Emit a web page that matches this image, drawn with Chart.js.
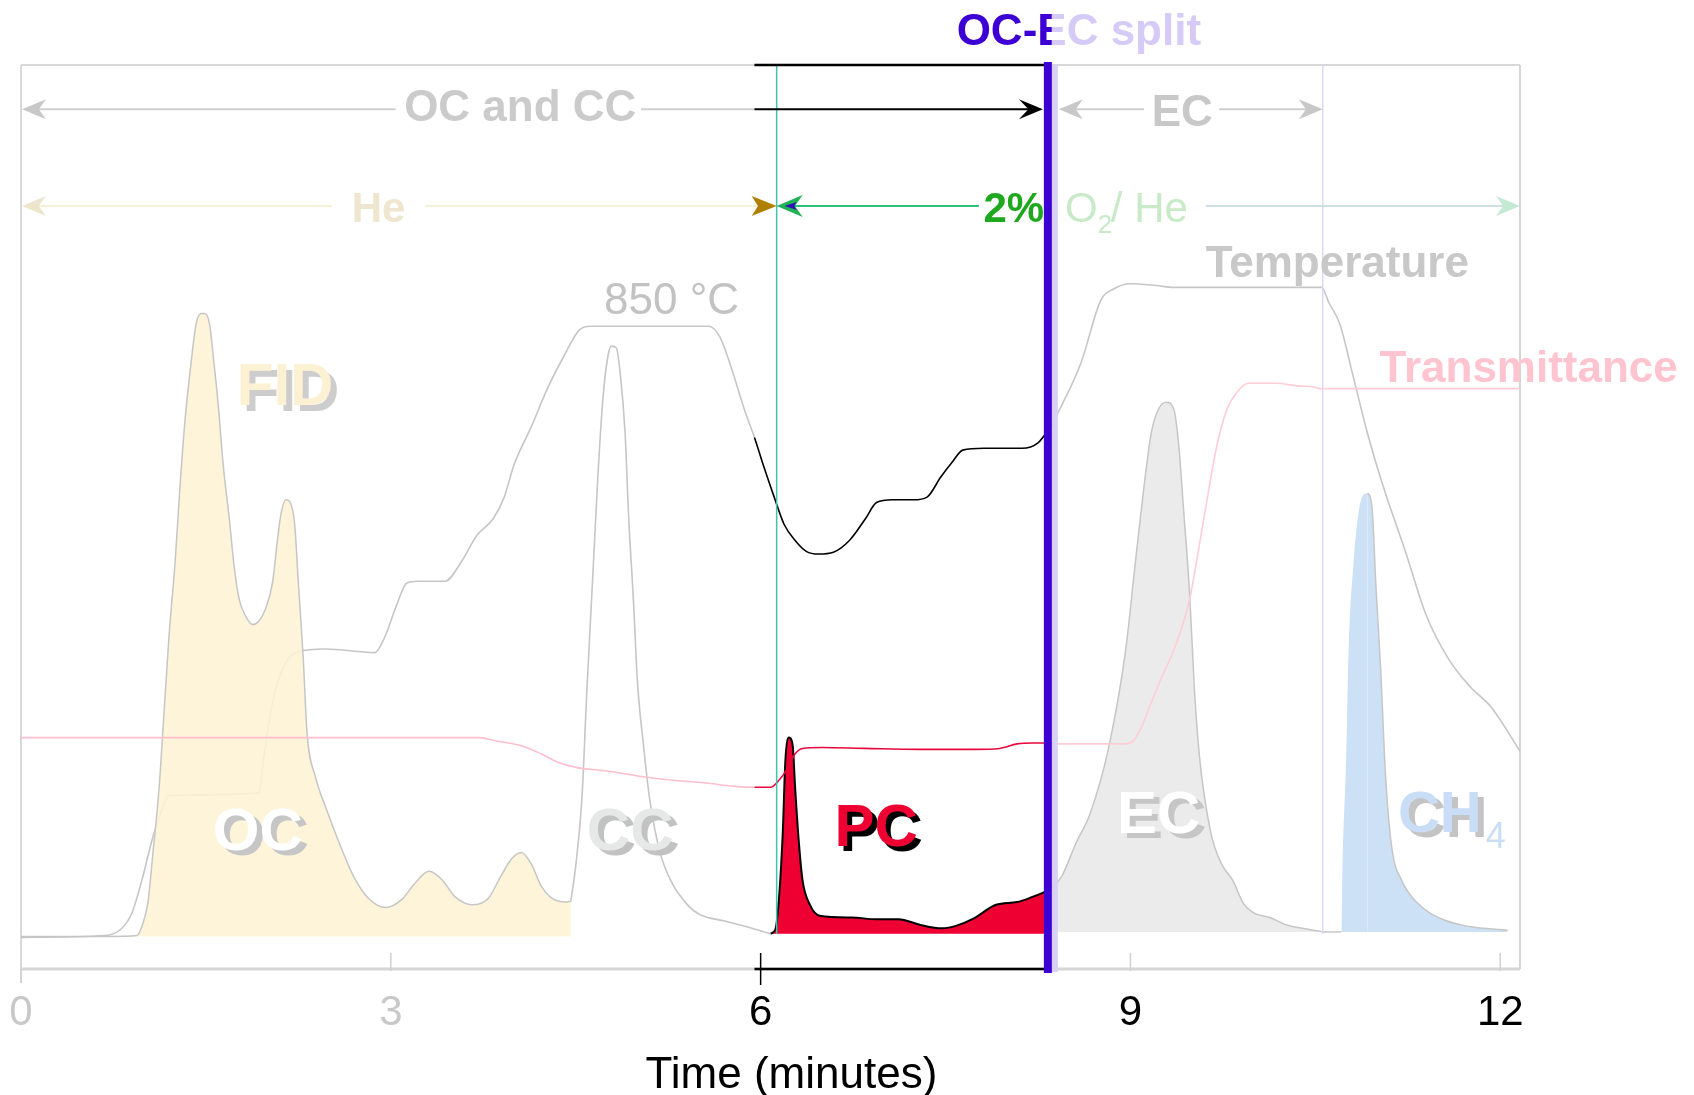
<!DOCTYPE html>
<html>
<head>
<meta charset="utf-8">
<title>OC-EC thermogram</title>
<script src="https://cdn.jsdelivr.net/npm/chart.js@4"></script>
<style>
  html, body { margin: 0; padding: 0; background: #fff; }
  canvas { display: block; }
</style>
</head>
<body>
<canvas id="thermo" width="1694" height="1095"></canvas>
<script>
// x in minutes, y in arbitrary signal units (0 = time axis, 100 = top of frame)
const tickValues = [0, 3, 6, 9, 12];

// FID signal, one array per carbon fraction
const fidOC = [[0,3.6],[0.72,3.6],[0.94,3.7],[0.98,4.7],[1.03,7.4],[1.07,12.8],[1.12,20.0],[1.16,28.3],[1.20,36.7],[1.25,45.0],[1.29,53.4],[1.33,60.6],[1.38,67.1],[1.42,71.3],[1.46,72.5],[1.49,72.5],[1.53,71.3],[1.56,67.7],[1.60,62.4],[1.64,55.8],[1.69,49.8],[1.73,44.4],[1.77,40.9],[1.82,39.1],[1.88,38.1],[1.93,38.5],[1.98,39.7],[2.04,42.7],[2.08,47.4],[2.11,50.4],[2.15,51.9],[2.18,51.7],[2.22,49.2],[2.25,42.7],[2.29,34.3],[2.32,26.2],[2.39,21.2],[2.48,17.6],[2.58,14.0],[2.70,10.2],[2.82,7.8],[2.96,6.8],[3.09,7.7],[3.19,9.4],[3.31,10.8],[3.42,9.8],[3.52,8.0],[3.66,7.1],[3.79,7.8],[3.89,10.2],[3.98,12.2],[4.06,12.9],[4.14,11.6],[4.22,9.2],[4.31,7.8],[4.42,7.4],[4.46,7.5]];
const fidCC = [[4.46,7.5],[4.50,11.4],[4.55,18.8],[4.59,30.7],[4.64,43.9],[4.68,54.6],[4.72,63.0],[4.76,67.7],[4.79,68.9],[4.83,68.7],[4.86,66.0],[4.90,59.4],[4.93,49.8],[4.97,40.3],[5.00,31.9],[5.05,24.7],[5.10,18.8],[5.18,13.1],[5.27,9.8],[5.42,6.9],[5.51,6.0],[5.71,5.3],[5.93,4.5],[6.08,3.9]];
const fidPC = [[6.08,3.9],[6.12,4.4],[6.15,8.0],[6.18,15.2],[6.20,22.9],[6.23,25.6],[6.26,24.7],[6.28,20.0],[6.31,14.0],[6.34,9.8],[6.40,7.1],[6.48,5.9],[6.74,5.7],[6.94,5.5],[7.12,5.5],[7.29,4.9],[7.47,4.5],[7.59,4.8],[7.73,5.6],[7.91,7.1],[8.08,7.4],[8.21,8.0],[8.32,8.6]];
const fidEC = [[8.32,8.6],[8.44,10.2],[8.56,14.0],[8.67,17.1],[8.82,24.3],[8.96,35.2],[9.04,45.0],[9.11,53.4],[9.17,59.4],[9.23,62.0],[9.29,62.7],[9.35,62.0],[9.39,58.2],[9.43,51.0],[9.48,41.5],[9.52,30.7],[9.56,23.5],[9.65,15.2],[9.74,11.6],[9.83,9.8],[9.91,7.4],[10.00,6.2],[10.13,5.7],[10.26,4.9],[10.44,4.4],[10.56,4.1]];
const fidCH4 = [[10.56,4.1],[10.71,4.1],[10.72,11.6],[10.75,23.5],[10.77,35.5],[10.81,45.0],[10.85,50.4],[10.89,52.5],[10.92,52.6],[10.96,51.0],[10.99,42.7],[11.03,33.1],[11.07,21.2],[11.12,13.4],[11.20,9.8],[11.32,7.4],[11.53,5.5],[11.75,4.7],[12.06,4.3]];

// oven temperature profile
const temperature = [[0,3.5],[0.68,3.7],[0.81,4.4],[0.90,6.2],[0.98,9.8],[1.07,14.6],[1.16,18.2],[1.20,19.2],[1.93,19.5],[1.97,23.5],[2.04,29.5],[2.14,33.7],[2.25,35.1],[2.47,35.4],[2.87,35.0],[2.95,36.7],[3.04,40.0],[3.13,42.7],[3.22,42.9],[3.44,42.9],[3.57,45.0],[3.70,48.0],[3.83,49.8],[3.92,52.2],[4.00,55.8],[4.14,60.0],[4.27,64.2],[4.40,67.7],[4.53,70.7],[4.62,71.1],[5.58,71.1],[5.67,69.9],[5.76,66.6],[5.87,61.8],[5.95,58.8],[6.02,55.8],[6.11,52.2],[6.19,49.2],[6.28,47.4],[6.37,46.2],[6.47,45.9],[6.59,46.1],[6.72,47.4],[6.85,49.8],[6.94,51.6],[7.07,51.9],[7.24,51.9],[7.35,52.2],[7.46,54.4],[7.55,56.0],[7.64,57.4],[7.81,57.6],[8.12,57.6],[8.25,58.2],[8.32,59.4],[8.44,62.3],[8.60,67.1],[8.76,74.0],[8.86,75.2],[9.00,75.8],[9.21,75.6],[9.35,75.4],[10.55,75.4],[10.61,73.7],[10.70,71.3],[10.79,66.5],[10.92,59.4],[11.05,53.4],[11.23,46.2],[11.40,39.1],[11.58,34.3],[11.75,31.3],[11.93,28.9],[12.16,24.1]];

// laser transmittance
const transmittance = [[0,25.6],[3.71,25.6],[3.87,25.2],[4.06,24.7],[4.22,23.8],[4.35,22.9],[4.50,22.3],[4.75,21.9],[5.03,21.3],[5.27,20.9],[5.54,20.6],[5.80,20.2],[5.95,20.1],[6.08,20.1],[6.15,20.9],[6.21,22.0],[6.28,23.8],[6.34,24.4],[6.50,24.5],[6.85,24.4],[7.29,24.3],[7.73,24.3],[7.94,24.4],[8.08,24.9],[8.21,25.0],[8.32,25.0],[8.38,24.9],[8.95,24.9],[9.02,25.2],[9.08,26.5],[9.17,29.5],[9.26,32.5],[9.35,35.2],[9.48,40.9],[9.58,48.6],[9.70,57.8],[9.78,61.8],[9.87,63.9],[9.96,64.8],[10.18,64.8],[10.35,64.5],[10.48,64.4],[10.54,64.2],[12.16,64.2]];

// event times (minutes)
const PC_START = 5.95;
const O2_START = 6.13;
const SPLIT = 8.33;
const EC_END = 10.56;
const X_MAX = 12.16;

const FONT = '"Liberation Sans", Arial, sans-serif';
const GREY = '#c6c6c6';

const pts = arr => arr.map(([x, y]) => ({ x, y }));

function stroke(ctx, color, w, x1, y1, x2, y2) {
    ctx.strokeStyle = color;
    ctx.lineWidth = w;
    ctx.beginPath();
    ctx.moveTo(x1, y1);
    ctx.lineTo(x2, y2);
    ctx.stroke();
}

// barbed arrow head, dir 1 = points right, -1 = points left
function head(ctx, x, y, dir, color, len, w, notch) {
    ctx.fillStyle = color;
    ctx.beginPath();
    ctx.moveTo(x, y);
    ctx.lineTo(x - dir * len, y - w);
    ctx.lineTo(x - dir * len * notch, y);
    ctx.lineTo(x - dir * len, y + w);
    ctx.closePath();
    ctx.fill();
}

function text(ctx, s, x, y, font, color, align) {
    ctx.font = font;
    ctx.fillStyle = color;
    ctx.textAlign = align || 'left';
    ctx.textBaseline = 'alphabetic';
    ctx.fillText(s, x, y);
}

function shadowText(ctx, s, x, y, font, color, shade, dx, dy) {
    text(ctx, s, x + dx, y + dy, font, shade);
    text(ctx, s, x, y, font, color);
}

const decorations = {
    id: 'decorations',
    beforeDatasetsDraw(chart) {
        const { ctx, chartArea: a } = chart;
        const X = v => chart.scales.x.getPixelForValue(v);
        ctx.save();
        stroke(ctx, '#d8d8d8', 2, X(0), a.top, X(X_MAX), a.top);
        stroke(ctx, '#d8d8d8', 2, X(0), a.top, X(0), a.bottom);
        stroke(ctx, '#d4d4d4', 2, X(X_MAX), a.top, X(X_MAX), a.bottom);
        stroke(ctx, '#d6d6d6', 3, X(0), a.bottom, X(X_MAX), a.bottom);
        ctx.restore();
    },
    afterDatasetsDraw(chart) {
        const { ctx, chartArea: a } = chart;
        const X = v => chart.scales.x.getPixelForValue(v);
        const Y = v => chart.scales.y.getPixelForValue(v);
        ctx.save();

        // guides
        stroke(ctx, '#3cc6b2', 1.5, X(O2_START), a.top, X(O2_START), Y(3.9));
        stroke(ctx, '#ddd8f6', 1.5, X(EC_END), a.top, X(EC_END), Y(3.9));

        // black window for the pyrolysed carbon period
        stroke(ctx, '#000', 2.5, X(PC_START), a.top, X(SPLIT), a.top);
        stroke(ctx, '#000', 2.5, X(PC_START), a.bottom, X(SPLIT), a.bottom);

        // tick marks
        chart.scales.x.ticks.forEach(t => {
            const x = X(t.value);
            if (t.value === 6) stroke(ctx, '#000', 1.5, x, a.bottom - 16, x, a.bottom + 16);
            else if (t.value === 0) stroke(ctx, GREY, 1.5, x, a.bottom, x, a.bottom + 14);
            else stroke(ctx, '#d0d0d0', 1.5, x, a.bottom - 16, x, a.bottom + 2);
        });

        // OC and CC / EC arrows
        const r1 = Y(95.1);
        stroke(ctx, '#cfcfcf', 2, X(0) + 6, r1, X(3.04), r1);
        stroke(ctx, '#cfcfcf', 2, X(5.03), r1, X(PC_START), r1);
        stroke(ctx, '#000', 2, X(PC_START), r1, X(SPLIT) - 10, r1);
        head(ctx, X(0) + 1, r1, -1, '#c8c8c8', 24, 10, 0.7);
        head(ctx, X(SPLIT) - 5, r1, 1, '#000', 24, 10, 0.6);
        text(ctx, 'OC and CC', X(4.05), Y(93.8), 'bold 44px ' + FONT, '#cbcbcb', 'center');

        stroke(ctx, '#cfcfcf', 2, X(SPLIT) + 16, r1, X(9.11), r1);
        stroke(ctx, '#cfcfcf', 2, X(9.72), r1, X(EC_END) - 8, r1);
        head(ctx, X(SPLIT) + 11, r1, -1, '#c8c8c8', 24, 10, 0.7);
        head(ctx, X(EC_END), r1, 1, '#c8c8c8', 24, 10, 0.7);
        text(ctx, 'EC', X(9.42), Y(93.2), 'bold 44px ' + FONT, '#c8c8c8', 'center');

        // carrier gas arrows
        const r2 = Y(84.4);
        stroke(ctx, '#f6f0d4', 2, X(0) + 6, r2, X(2.52), r2);
        stroke(ctx, '#f6f0d4', 2, X(3.28), r2, X(O2_START) - 20, r2);
        head(ctx, X(0) + 1, r2, -1, '#eee5cd', 24, 10, 0.7);
        text(ctx, 'He', X(2.90), Y(82.6), 'bold 42px ' + FONT, '#efe6d0', 'center');
        head(ctx, X(O2_START), r2, 1, '#b07f00', 25, 10, 0.75);

        stroke(ctx, '#2cc07a', 2, X(O2_START) + 10, r2, X(7.77), r2);
        head(ctx, X(O2_START), r2, -1, '#1fb255', 26, 11, 0.7);
        head(ctx, X(O2_START) + 8, r2, -1, '#3010b8', 12, 4, 0.8);
        text(ctx, '2%', X(8.30), Y(82.6), 'bold 42px ' + FONT, '#1ea81e', 'right');

        const o2x = X(8.47), o2y = Y(82.6);
        ctx.font = '42px ' + FONT;
        const wO = ctx.measureText('O').width;
        text(ctx, 'O', o2x, o2y, '42px ' + FONT, '#c8eac8');
        text(ctx, '2', o2x + wO, o2y + 11, '26px ' + FONT, '#c8eac8');
        text(ctx, '/ He', o2x + wO + 13, o2y, '42px ' + FONT, '#c8eac8');
        stroke(ctx, '#cfe0e4', 2, X(9.61), r2, X(X_MAX) - 8, r2);
        head(ctx, X(X_MAX), r2, 1, '#c4ead4', 24, 10, 0.7);

        // curve names
        text(ctx, 'Temperature', X(9.61), Y(76.6), 'bold 44px ' + FONT, '#c8c8c8');
        text(ctx, '850 \u00B0C', X(4.73), Y(72.5), '44px ' + FONT, '#c2c2c2');
        text(ctx, 'Transmittance', X(11.02), Y(64.9), 'bold 44px ' + FONT, '#ffc4cf');

        // peak labels
        shadowText(ctx, 'FID', X(1.75), Y(62.4), 'bold 60px ' + FONT, '#fdf1d4', '#cdcdcd', 6, 6);
        shadowText(ctx, 'OC', X(1.556), Y(13.2), 'bold 60px ' + FONT, '#ffffff', '#c6c6c6', 6, 5);
        shadowText(ctx, 'CC', X(4.59), Y(13.2), 'bold 60px ' + FONT, '#e6e8e8', '#c2c2c2', 6, 5);
        shadowText(ctx, 'PC', X(6.60), Y(13.6), 'bold 60px ' + FONT, '#ee0033', '#000000', 5, 5);
        shadowText(ctx, 'EC', X(8.89), Y(15.0), 'bold 60px ' + FONT, '#ffffff', '#c6c6c6', 6, 5);
        shadowText(ctx, 'CH', X(11.17), Y(15.2), 'bold 58px ' + FONT, '#c9def6', '#c4c4c4', 6, 5);
        ctx.font = 'bold 58px ' + FONT;
        const wCH = ctx.measureText('CH').width;
        text(ctx, '4', X(11.17) + wCH + 4, Y(13.4), '36px ' + FONT, '#c9def6');

        // OC-EC split line
        stroke(ctx, '#d9d0f6', 6, X(SPLIT) + 7, a.top, X(SPLIT) + 7, a.bottom + 3);
        stroke(ctx, '#3d00d4', 8, X(SPLIT), a.top - 3, X(SPLIT), a.bottom + 4);

        ctx.restore();
    },
    afterDraw(chart) {
        const { ctx, chartArea: a } = chart;
        const X = v => chart.scales.x.getPixelForValue(v);
        const Y = v => chart.scales.y.getPixelForValue(v);
        ctx.save();
        // split title: purple left of the line, lavender right of it
        const cut = X(SPLIT) + 4;
        ctx.save();
        ctx.beginPath(); ctx.rect(0, 0, cut, a.top - 4); ctx.clip();
        text(ctx, 'OC-EC split', X(7.59), Y(102.2), 'bold 44px ' + FONT, '#3d00d4');
        ctx.restore();
        ctx.save();
        ctx.beginPath(); ctx.rect(cut, 0, chart.width - cut, a.top - 4); ctx.clip();
        text(ctx, 'OC-EC split', X(7.59), Y(102.2), 'bold 44px ' + FONT, '#d6cbf6');
        ctx.restore();

        text(ctx, 'Time (minutes)', X(6.25), a.bottom + 119, '44px ' + FONT, '#000', 'center');
        ctx.restore();
    }
};

const greyOrBlack = c => (c.p0.parsed.x >= PC_START && c.p0.parsed.x < 8.3) ? '#000' : GREY;

new Chart(document.getElementById('thermo'), {
    type: 'line',
    data: {
        datasets: [
            {
                label: 'Transmittance',
                data: pts(transmittance),
                borderColor: '#ffbfcc',
                borderWidth: 1.6,
                segment: {
                    borderColor: c => c.p0.parsed.x < PC_START ? '#ffbfcc' : (c.p0.parsed.x < SPLIT ? '#e8083c' : '#ffcdd6')
                },
                fill: false,
                order: 0
            },
            {
                label: 'OC',
                data: pts(fidOC),
                borderColor: GREY,
                borderWidth: 1.5,
                backgroundColor: 'rgba(253, 242, 212, 0.88)',
                fill: { value: 3.6 },
                order: 1
            },
            {
                label: 'CC',
                data: pts(fidCC),
                borderColor: GREY,
                borderWidth: 1.6,
                segment: { borderColor: greyOrBlack },
                fill: false,
                order: 1
            },
            {
                label: 'PC',
                data: pts(fidPC),
                borderColor: '#000',
                borderWidth: 2,
                backgroundColor: '#ee0033',
                fill: { value: 3.9 },
                order: 1
            },
            {
                label: 'EC',
                data: pts(fidEC),
                borderColor: GREY,
                borderWidth: 1.5,
                backgroundColor: '#ebebeb',
                fill: { value: 4.1 },
                order: 1
            },
            {
                label: 'CH4',
                data: pts(fidCH4),
                borderColor: GREY,
                borderWidth: 1.5,
                segment: {
                    borderColor: c => (c.p0.parsed.x >= 10.71 && c.p0.parsed.x < 10.92) ? 'rgba(0,0,0,0)' : GREY
                },
                backgroundColor: '#cde1f6',
                fill: { value: 4.1 },
                order: 1
            },
            {
                label: 'Temperature',
                data: pts(temperature),
                borderColor: GREY,
                borderWidth: 1.6,
                segment: { borderColor: greyOrBlack },
                fill: false,
                order: 2
            }
        ]
    },
    options: {
        responsive: false,
        animation: false,
        events: [],
        layout: { padding: { left: 21, right: 174, top: 65, bottom: 56 } },
        elements: {
            point: { radius: 0 },
            line: { cubicInterpolationMode: 'monotone' }
        },
        plugins: {
            legend: { display: false },
            tooltip: { enabled: false }
        },
        scales: {
            x: {
                type: 'linear',
                min: 0,
                max: X_MAX,
                grid: { display: false },
                border: { display: false },
                afterBuildTicks: scale => {
                    scale.ticks = tickValues.map(v => ({ value: v }));
                },
                afterFit: scale => {
                    scale.paddingLeft = 0;
                    scale.paddingRight = 0;
                    scale.height = 70;
                },
                ticks: {
                    padding: 11,
                    autoSkip: false,
                    maxRotation: 0,
                    font: { family: FONT, size: 42 },
                    color: c => (c.tick && c.tick.value < 5) ? '#c8c8c8' : '#000',
                    callback: v => String(v)
                }
            },
            y: {
                display: false,
                min: 0,
                max: 100
            }
        }
    },
    plugins: [decorations]
});
</script>
</body>
</html>
